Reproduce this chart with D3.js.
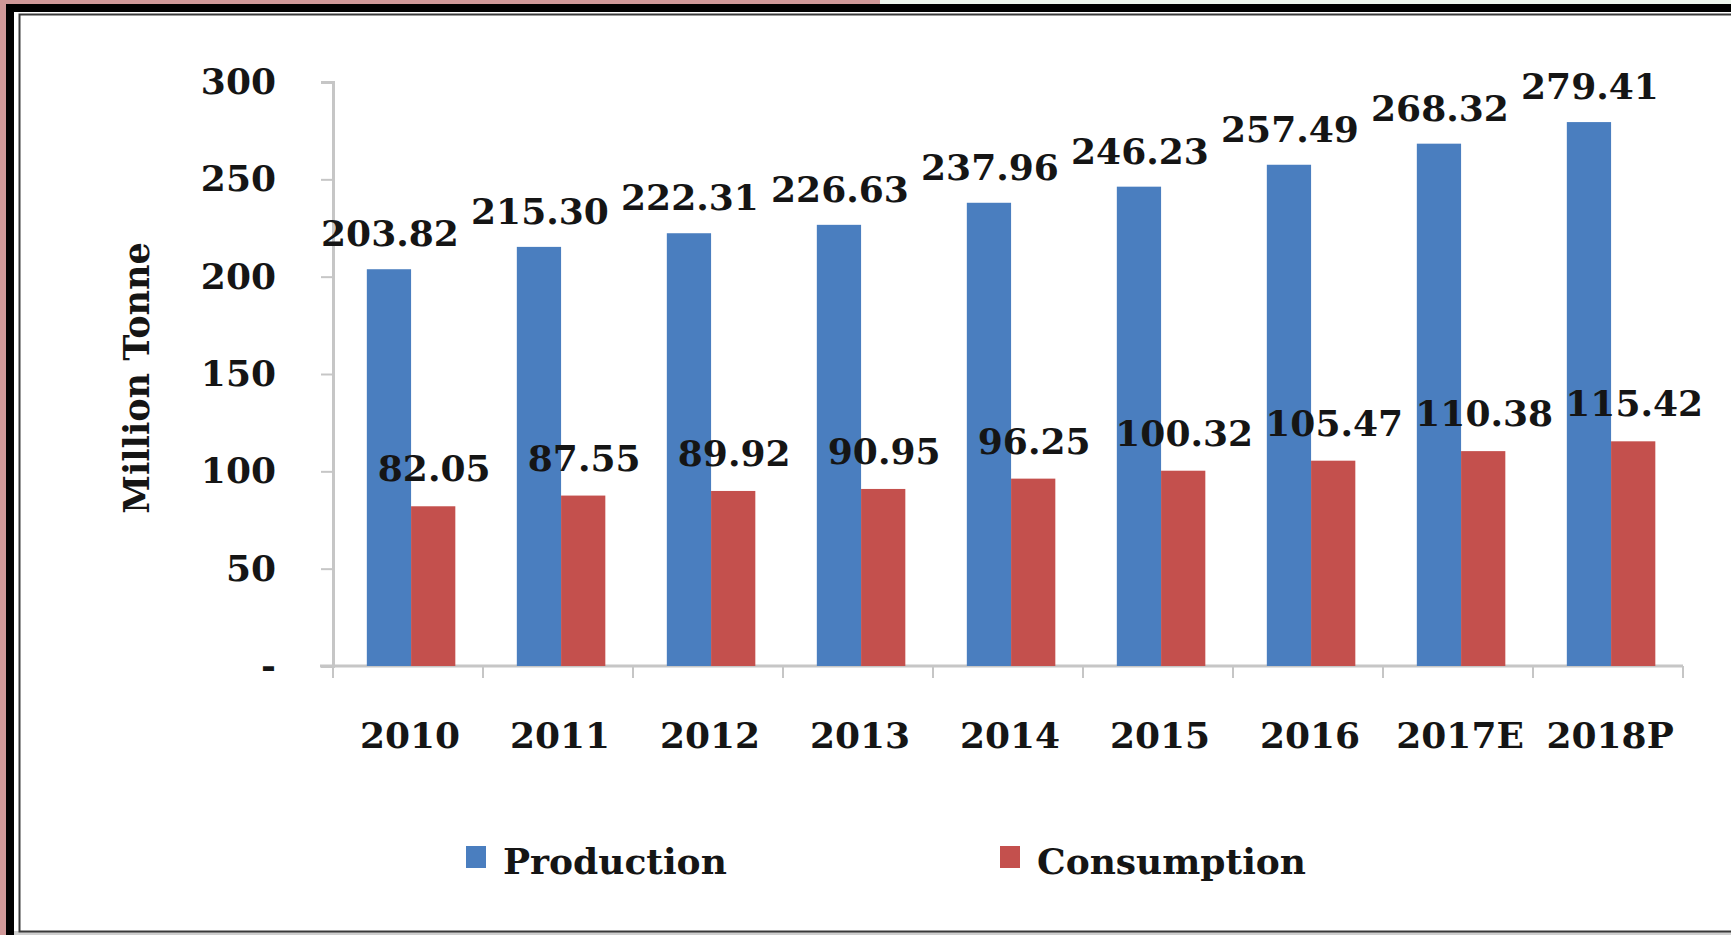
<!DOCTYPE html>
<html>
<head>
<meta charset="utf-8">
<script src="https://cdn.jsdelivr.net/npm/d3@7"></script>
<style>
    body { margin: 0; background: #ffffff; }
    svg { display: block; }
    text { font-family: "DejaVu Serif", serif; font-weight: bold; fill: #151515; }
</style>
</head>
<body>
<div id="chart"></div>
<script>
    // values
    var years = ["2010", "2011", "2012", "2013", "2014", "2015", "2016", "2017E", "2018P"];
    var production = [203.82, 215.30, 222.31, 226.63, 237.96, 246.23, 257.49, 268.32, 279.41];
    var consumption = [82.05, 87.55, 89.92, 90.95, 96.25, 100.32, 105.47, 110.38, 115.42];
    var seriesNames = ["Production", "Consumption"];
    var seriesColors = ["#4a7ebf", "#c4504d"];
    var yTicks = [0, 50, 100, 150, 200, 250, 300];

(function(){
    var width = 1731, height = 935;
    var svg = d3.select("#chart").append("svg")
        .attr("width", width)
        .attr("height", height);

    /*
     * picture frame round the chart
     */
    function drawFrame() {
        svg.append("rect").attr("x", 0).attr("y", 0).attr("width", 880).attr("height", 4).attr("fill", "#d09898");
        svg.append("rect").attr("x", 880).attr("y", 0).attr("width", width - 880).attr("height", 4).attr("fill", "#eef6ee");
        svg.append("rect").attr("x", 0).attr("y", 0).attr("width", 6).attr("height", height).attr("fill", "#d09898");
        svg.append("rect").attr("x", 6).attr("y", 4).attr("width", width - 6).attr("height", 8).attr("fill", "#000");
        svg.append("rect").attr("x", 6).attr("y", 4).attr("width", 8).attr("height", height - 4).attr("fill", "#000");
        svg.append("rect").attr("x", 14).attr("y", 931).attr("width", width - 14).attr("height", 4).attr("fill", "#cfcfcf");
        // thin inner border
        svg.append("path")
            .attr("d", "M" + width + ",14.5 H19.5 V931.5 H" + width)
            .attr("fill", "none")
            .attr("stroke", "#3a3a3a")
            .attr("stroke-width", 2);
    }
    drawFrame();

    var plotLeft = 333, plotRight = 1683, plotTop = 82, plotBottom = 666;

    var x0 = d3.scaleBand()
        .domain(years)
        .range([plotLeft, plotRight])
        .paddingInner(0.41)
        .paddingOuter(0.205)
        .align(0.55);
    var x1 = d3.scaleBand()
        .domain(seriesNames)
        .range([0, x0.bandwidth()]);
    var y = d3.scaleLinear()
        .domain([0, 300])
        .range([plotBottom, plotTop]);

    var rows = years.map(function (d, i) {
        return { year: d, values: [production[i], consumption[i]] };
    });

    // y axis
    var yAxis = svg.append("g")
        .attr("transform", "translate(" + plotLeft + ",0)")
        .call(d3.axisLeft(y).tickValues(yTicks).tickSize(12).tickPadding(45)
            .tickFormat(function (d) { return d === 0 ? "-" : d; }));
    yAxis.select(".domain").attr("stroke", "#c6c6c6").attr("stroke-width", 3);
    yAxis.selectAll(".tick line").attr("stroke", "#c6c6c6").attr("stroke-width", 2);
    yAxis.selectAll(".tick text")
        .style("font-size", "36px")
        .style("font-family", "DejaVu Serif")
        .style("font-weight", "bold")
        .attr("fill", "#151515");

    // x axis line and the boundary ticks between categories
    svg.append("line")
        .attr("x1", plotLeft - 13).attr("x2", plotRight)
        .attr("y1", plotBottom).attr("y2", plotBottom)
        .attr("stroke", "#c6c6c6").attr("stroke-width", 3);
    svg.append("g")
        .selectAll(".xbound")
        .data(d3.range(years.length + 1))
        .enter().append("line")
        .attr("class", "xbound")
        .attr("x1", function (d) { return plotLeft + d * x0.step(); })
        .attr("x2", function (d) { return plotLeft + d * x0.step(); })
        .attr("y1", plotBottom).attr("y2", plotBottom + 12)
        .attr("stroke", "#c6c6c6").attr("stroke-width", 2);

    svg.append("g")
        .selectAll(".xlabel")
        .data(years)
        .enter().append("text")
        .attr("class", "xlabel")
        .attr("x", function (d) { return x0(d) + x0.bandwidth() / 2 - 1; })
        .attr("y", 748)
        .attr("text-anchor", "middle")
        .style("font-size", "36px")
        .text(function (d) { return d; });

    // bars
    var groups = svg.append("g")
        .selectAll(".group")
        .data(rows)
        .enter().append("g")
        .attr("class", "group")
        .attr("transform", function (d) { return "translate(" + x0(d.year) + ",0)"; });

    groups.selectAll("rect")
        .data(function (d) { return d.values; })
        .enter().append("rect")
        .attr("x", function (d, i) { return x1(seriesNames[i]); })
        .attr("y", function (d) { return y(d); })
        .attr("width", x1.bandwidth())
        .attr("height", function (d) { return plotBottom - y(d); })
        .attr("fill", function (d, i) { return seriesColors[i]; });

    // value labels
    var labelGap = [23, 25];
    groups.selectAll(".vlabel")
        .data(function (d) { return d.values; })
        .enter().append("text")
        .attr("class", "vlabel")
        .attr("x", function (d, i) { return x1(seriesNames[i]) + x1.bandwidth() / 2 + 1; })
        .attr("y", function (d, i) { return y(d) - labelGap[i]; })
        .attr("text-anchor", "middle")
        .style("font-size", "36px")
        .text(function (d) { return d.toFixed(2); });

    // y axis title
    svg.append("text")
        .attr("transform", "translate(149,378) rotate(-90)")
        .attr("text-anchor", "middle")
        .style("font-size", "35px")
        .text("Million Tonne");

    // legend
    var legendX = [466, 1000];
    var legend = svg.append("g")
        .selectAll(".legend")
        .data(seriesNames)
        .enter().append("g")
        .attr("class", "legend")
        .attr("transform", function (d, i) { return "translate(" + legendX[i] + ",846)"; });
    legend.append("rect")
        .attr("width", 20).attr("height", 22)
        .attr("fill", function (d, i) { return seriesColors[i]; });
    legend.append("text")
        .attr("x", 37).attr("y", 28)
        .style("font-size", "36px")
        .text(function (d) { return d; });
})();
</script>
</body>
</html>
